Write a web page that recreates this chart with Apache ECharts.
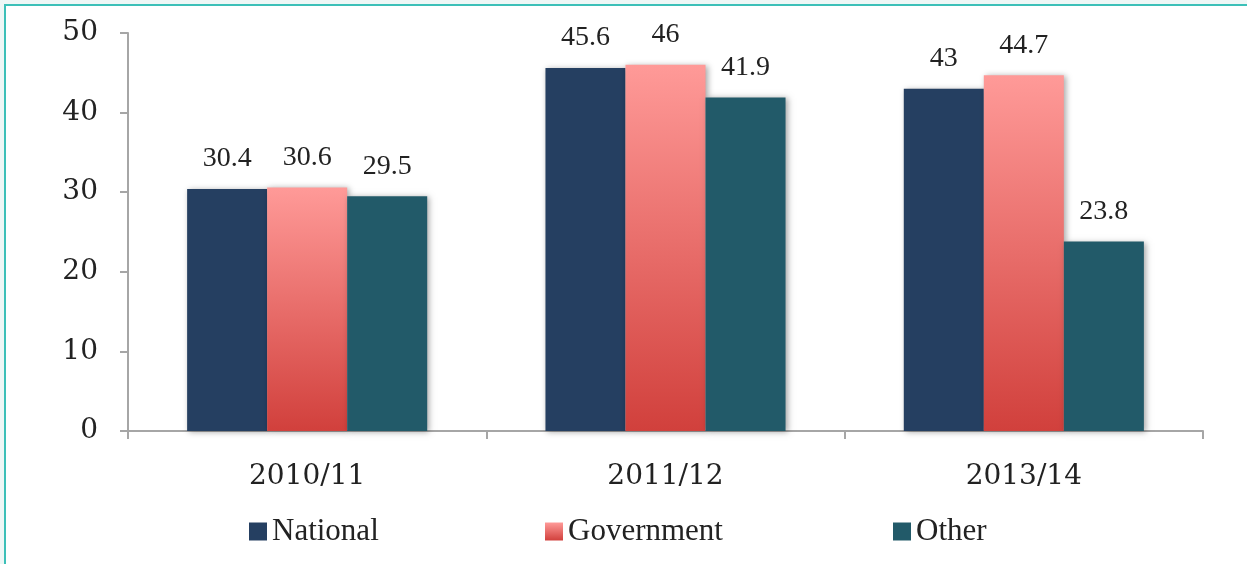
<!DOCTYPE html>
<html lang="en">
<head>
    <meta charset="UTF-8">
    <title>National / Government / Other</title>
    <style>
        html, body { margin: 0; padding: 0; background: #eef7f6; }
        #frame {
            position: absolute; left: 4px; top: 4px; width: 1243px; height: 560px;
            background: #ffffff; border-top: 2px solid #3cc0b8; border-left: 2px solid #3cc0b8;
        }
        #chart { position: absolute; left: 0; top: 0; width: 1247px; height: 564px; }
    </style>
</head>
<body>
<div id="frame"></div>
<div id="chart"></div>

<script src="https://cdn.jsdelivr.net/npm/echarts/dist/echarts.min.js"></script>
<script>
// data
const years = ['2010/11', '2011/12', '2013/14'];
const national = [30.4, 45.6, 43];
const government = [30.6, 46, 44.7];
const other = [29.5, 41.9, 23.8];
const yTicks = [0, 10, 20, 30, 40, 50];

const serif = 'Liberation Serif';
const axisFont = 'DejaVu Serif';
const barShadow = { shadowColor: 'rgba(0,0,0,0.35)', shadowBlur: 6, shadowOffsetX: 2, shadowOffsetY: 1 };

const govGradient = new echarts.graphic.LinearGradient(0, 0, 0, 1, [
    { offset: 0, color: '#ff9a98' },
    { offset: 1, color: '#d1403c' }
]);

function barSeries(name, data, color) {
    return {
        name: name,
        type: 'bar',
        data: data,
        barGap: '0%',
        barCategoryGap: '33%',
        itemStyle: Object.assign({ color: color }, barShadow),
        label: {
            show: true,
            position: 'top',
            distance: 16,
            color: '#222',
            fontFamily: serif,
            fontSize: 28
        }
    };
}

const chart = echarts.init(document.getElementById('chart'));
const legendText = { fontFamily: serif, fontSize: 31, color: '#222' };
chart.setOption({
    animation: false,
    textStyle: { fontFamily: serif },
    grid: { left: 128, right: 44, top: 33, bottom: 133 },
    legend: [
        { data: ['National'], left: 244, top: 511, itemWidth: 18, itemHeight: 18, icon: 'rect', textStyle: legendText },
        { data: ['Government'], left: 540, top: 511, itemWidth: 18, itemHeight: 18, icon: 'rect', textStyle: legendText },
        { data: ['Other'], left: 888, top: 511, itemWidth: 18, itemHeight: 18, icon: 'rect', textStyle: legendText }
    ],
    xAxis: {
        type: 'category',
        data: years,
        axisLine: { lineStyle: { color: '#a6a6a6', width: 2 } },
        axisTick: { show: true, length: 8, lineStyle: { color: '#a6a6a6', width: 2 } },
        axisLabel: { margin: 32, color: '#222', fontFamily: axisFont, fontSize: 28 }
    },
    yAxis: {
        type: 'value',
        min: yTicks[0],
        max: yTicks[yTicks.length - 1],
        interval: 10,
        splitLine: { show: false },
        axisLine: { show: true, lineStyle: { color: '#a6a6a6', width: 2 } },
        axisTick: { show: true, length: 8, lineStyle: { color: '#a6a6a6', width: 2 } },
        axisLabel: { margin: 30, color: '#222', fontFamily: axisFont, fontSize: 28 }
    },
    series: [
        barSeries('National', national, '#253f61'),
        barSeries('Government', government, govGradient),
        barSeries('Other', other, '#225a69')
    ]
});
window.addEventListener('resize', function() { chart.resize(); });
</script>
</body>
</html>
